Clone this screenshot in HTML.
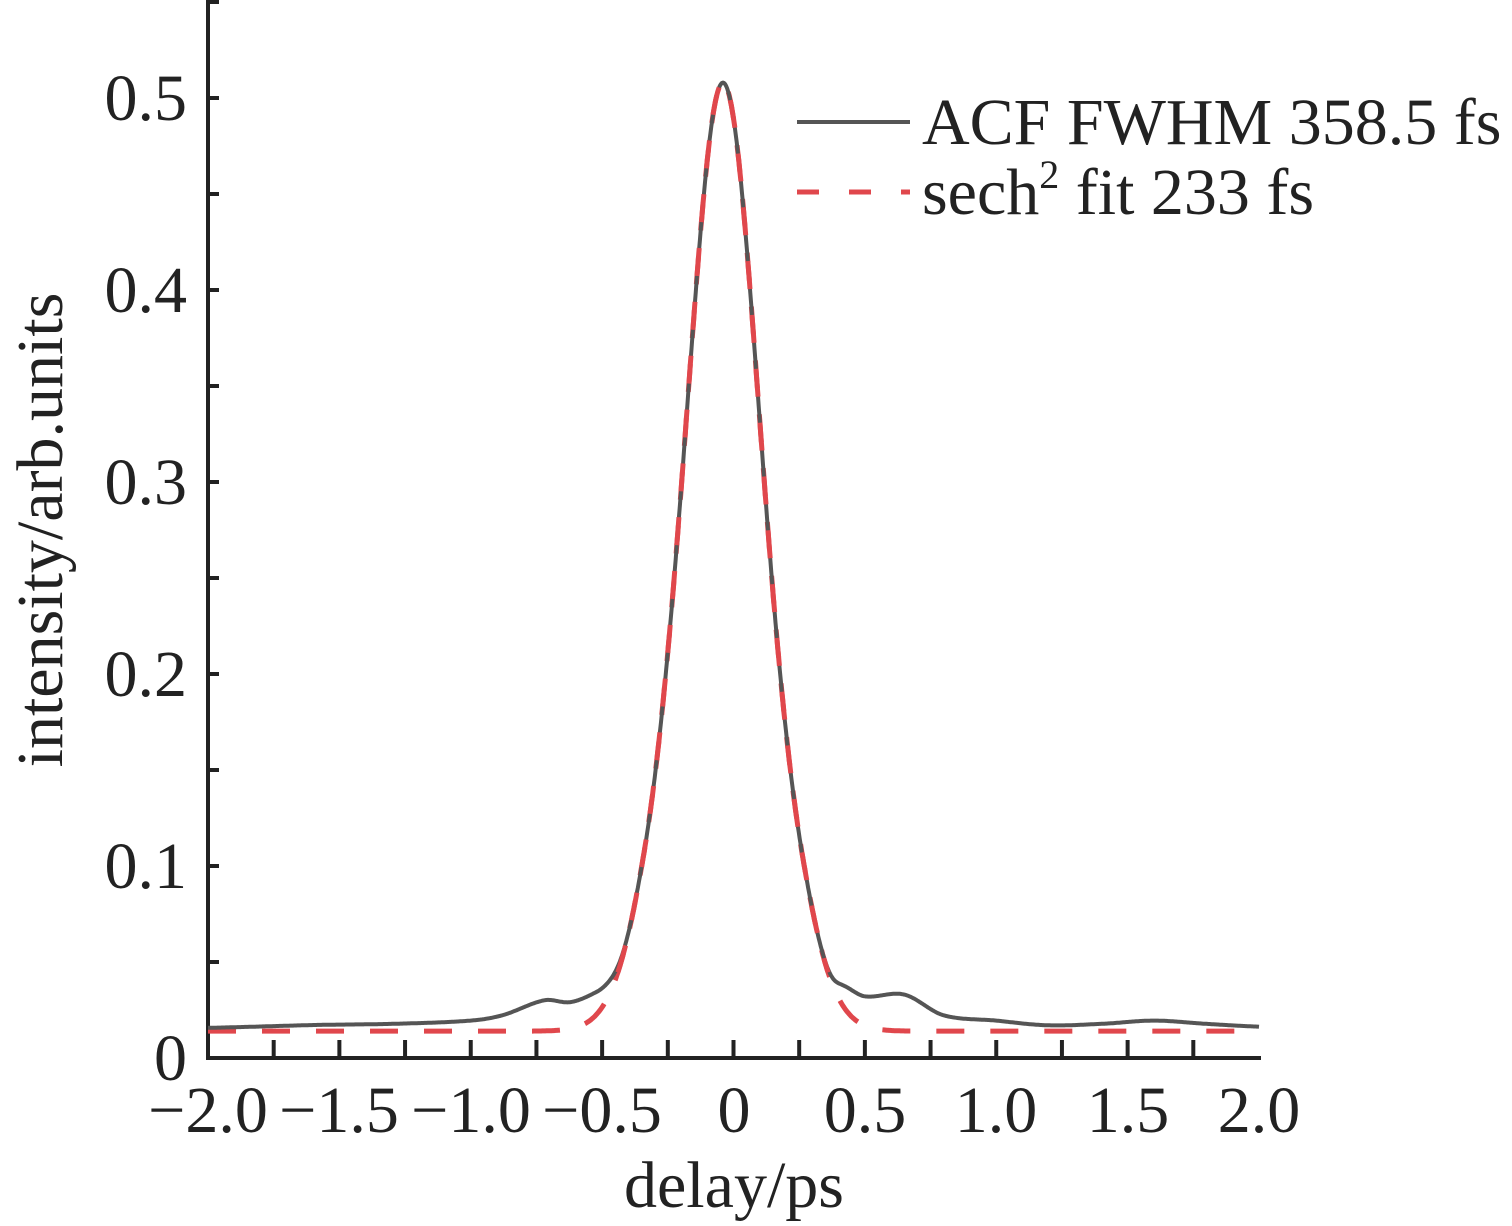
<!DOCTYPE html>
<html><head><meta charset="utf-8"><style>
html,body{margin:0;padding:0;background:#fff}
svg{display:block}
text{font-family:"Liberation Serif",serif;fill:#222}
</style></head><body>
<svg id="s" width="1512" height="1226" viewBox="0 0 1512 1226" xmlns="http://www.w3.org/2000/svg">
<g stroke="#222" stroke-width="4" fill="none">
<line x1="208" y1="0" x2="208" y2="1060"/>
<line x1="206" y1="1058" x2="1261" y2="1058"/>
</g>
<g id="ticks" stroke="#222" stroke-width="4"></g>
<path id="fit" fill="none" stroke="#e0474c" stroke-width="5" stroke-dasharray="28,26"/>
<path id="dat" fill="none" stroke="#555" stroke-width="4"/>
<path id="fit2" fill="none" stroke="#e0474c" stroke-width="5" stroke-dasharray="28,26"/>
<g font-size="66" text-anchor="end">
<text x="187" y="120">0.5</text>
<text x="187" y="312">0.4</text>
<text x="187" y="504">0.3</text>
<text x="187" y="696">0.2</text>
<text x="187" y="888">0.1</text>
<text x="187" y="1080">0</text>
</g>
<g font-size="66" text-anchor="middle">
<text x="208" y="1132">−2.0</text>
<text x="339" y="1132">−1.5</text>
<text x="471" y="1132">−1.0</text>
<text x="602" y="1132">−0.5</text>
<text x="734" y="1132">0</text>
<text x="865" y="1132">0.5</text>
<text x="996" y="1132">1.0</text>
<text x="1128" y="1132">1.5</text>
<text x="1259" y="1132">2.0</text>
<text x="734" y="1207">delay/ps</text>
<text transform="translate(62,530) rotate(-90)">intensity/arb.units</text>
</g>
<line x1="797" y1="122" x2="910" y2="122" stroke="#555" stroke-width="4"/>
<line x1="797" y1="192" x2="910" y2="192" stroke="#e0474c" stroke-width="5" stroke-dasharray="22,30"/>
<g font-size="66">
<text x="922" y="144">ACF FWHM 358.5 fs</text>
<text x="922" y="214">sech<tspan font-size="40" dy="-26">2</tspan><tspan dy="26"> fit 233 fs</tspan></text>
</g>
</svg>
<script>
var X=t=>208+(t+2)*1051/4, Y=v=>1058-v*1920;
var tk=document.getElementById('ticks'),h='';
for(var i=1;i<16;i++){var x=208+i*1051/16;h+='<line x1="'+x+'" y1="1058" x2="'+x+'" y2="1040"/>';}
for(var i=1;i<12;i++){var y=1058-i*96;h+='<line x1="208" y1="'+y+'" x2="219" y2="'+y+'"/>';}
tk.innerHTML=h;
function sech2(u){var c=Math.cosh(u);return 1/(c*c);}
function fit(t){var u=Math.abs((t+0.04)/0.2034);var f=u>1.5?Math.exp(-0.9*(u-1.5)*(u-1.5)):1;return 0.014+0.494*sech2(u)*f;}
var P=[[-2.1,0.0138],[-2,0.014],[-1.6,0.0162],[-1.3,0.017],[-1.0,0.019],[-0.88,0.022],[-0.72,0.030],[-0.62,0.029],[-0.52,0.034],[-0.42,0.04],[-0.3,0.03],[0.0,0.0],[0.25,0.025],[0.4,0.037],[0.5,0.032],[0.65,0.033],[0.8,0.022],[1.0,0.019],[1.2,0.016],[1.4,0.017],[1.6,0.019],[1.8,0.017],[2,0.015],[2.1,0.0148]];
function interp(t){for(var i=1;i<P.length-2;i++){if(t<=P[i+1][0]){var p0=P[i-1],p1=P[i],p2=P[i+1],p3=P[i+2];var s=(t-p1[0])/(p2[0]-p1[0]);
var m1=(p2[1]-p0[1])/(p2[0]-p0[0])*(p2[0]-p1[0]),m2=(p3[1]-p1[1])/(p3[0]-p1[0])*(p2[0]-p1[0]);
var s2=s*s,s3=s2*s;return (2*s3-3*s2+1)*p1[1]+(s3-2*s2+s)*m1+(-2*s3+3*s2)*p2[1]+(s3-s2)*m2;}}return 0.015;}
function dat(t){var a=fit(t),b=Math.max(interp(t),0.0001);var p=6;return Math.pow(Math.pow(a,p)+Math.pow(b,p),1/p);}
function path(f,a,b){var d='';for(var t=a;t<=b+0.0001;t+=0.004){d+=(d?'L':'M')+X(t).toFixed(1)+','+Y(f(t)).toFixed(1);}return d;}
document.getElementById('fit').setAttribute('d',path(fit,-2,2));
document.getElementById('dat').setAttribute('d',path(dat,-2,2));
document.getElementById('fit2').setAttribute('d',path(fit,-0.44,0.36));
</script>
</body></html>
